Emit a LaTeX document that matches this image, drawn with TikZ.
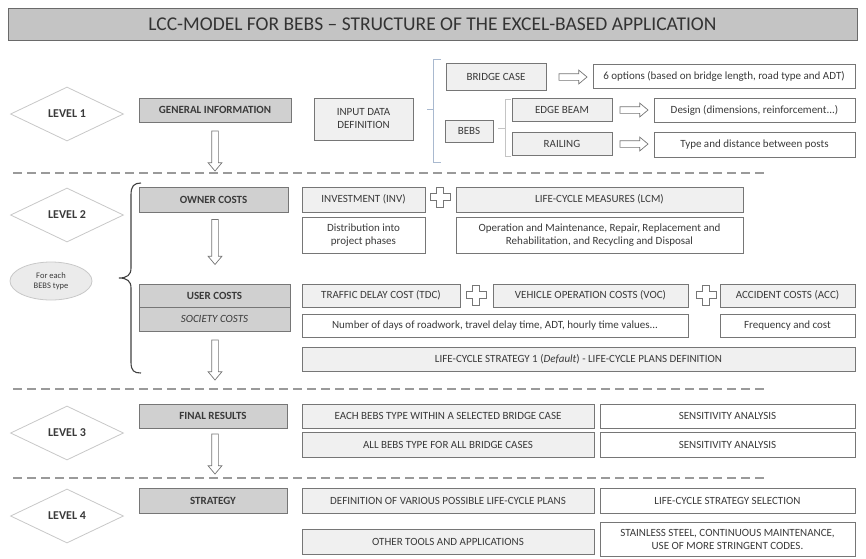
\documentclass[tikz,border=0pt]{standalone}
\usepackage{fontspec}
\setmainfont{Carlito}
\usetikzlibrary{shapes.geometric,shapes.arrows}
\definecolor{titlefill}{HTML}{C4C4C4}
\definecolor{darkfill}{HTML}{D0D0D0}
\definecolor{lightfill}{HTML}{F0F0F0}
\definecolor{boxline}{HTML}{767676}
\definecolor{txt}{HTML}{3A3A3A}
\definecolor{diamline}{HTML}{C8C8C8}
\definecolor{dashcol}{HTML}{9A9A9A}
\definecolor{bracketblue}{HTML}{A9B9CF}
\definecolor{bracketgray}{HTML}{C4C4C4}
\newcommand\bx[7]{\node[#1, minimum width={#5-#3}, minimum height={#6-#4}] (#2) at ({(#3+#5)/2},{(#4+#6)/2}) {#7};}
\tikzset{
  base/.style={draw=boxline, line width=0.8pt, inner sep=1pt, align=center, text=txt,
    font=\fontsize{11}{13}\selectfont},
  darkbox/.style={base, fill=darkfill, font=\fontsize{11}{13}\selectfont\bfseries},
  lightbox/.style={base, fill=lightfill},
  whitebox/.style={base, fill=white},
  levelbox/.style={diamond, draw=diamline, line width=0.8pt, fill=white, minimum width=113pt,
    minimum height=54pt, inner sep=0pt, text=txt, font=\fontsize{12}{14}\selectfont\bfseries},
  hollowarrow/.style={single arrow, draw=boxline, fill=white, line width=0.7pt, inner sep=3pt,
    single arrow head extend=3.5pt, single arrow tip angle=80},
  dashsep/.style={draw=dashcol, line width=1.7pt, dash pattern=on 9pt off 5pt},
  plussign/.pic={\draw[boxline, line width=0.8pt, fill=white]
    (-3.5,-10) -- (3.5,-10) -- (3.5,-3.5) -- (10,-3.5) -- (10,3.5) -- (3.5,3.5) -- (3.5,10)
    -- (-3.5,10) -- (-3.5,3.5) -- (-10,3.5) -- (-10,-3.5) -- (-3.5,-3.5) -- cycle;}
}
\begin{document}
\begin{tikzpicture}[x=1pt,y=-1pt]
\useasboundingbox (0,0) rectangle (866,558);
% title
\bx{base, fill=titlefill, draw=boxline!90!black, text=black!80, font=\fontsize{19.5}{21}\selectfont}{title}{8}{8}{857}{40}{LCC-MODEL FOR BEBS – STRUCTURE OF THE EXCEL-BASED APPLICATION}
% level diamonds
\node[levelbox] (lv1) at (67,114) {LEVEL 1};
\node[levelbox] (lv2) at (67,215) {LEVEL 2};
\node[levelbox] (lv3) at (67,433) {LEVEL 3};
\node[levelbox] (lv4) at (67,516) {LEVEL 4};
\node[ellipse, draw=diamline, fill=lightfill!85!darkfill, line width=0.8pt, minimum width=82pt, minimum height=38pt,
  inner sep=0pt, align=center, text=txt, font=\fontsize{8.5}{10}\selectfont] (each) at (51,281) {For each\\BEBS type};
% dashed separators
\coordinate (d1a) at (13,173); \coordinate (d1b) at (766,173);
\coordinate (d2a) at (13,389); \coordinate (d2b) at (766,389);
\coordinate (d3a) at (13,478); \coordinate (d3b) at (766,478);
\draw[dashsep] (d1a) -- (d1b);
\draw[dashsep] (d2a) -- (d2b);
\draw[dashsep] (d3a) -- (d3b);
% ---------------- level 1
\bx{darkbox}{gen}{139}{98}{291}{122}{GENERAL INFORMATION}
\bx{lightbox}{input}{314}{98}{413}{140}{INPUT DATA\\DEFINITION}
\bx{lightbox}{bridge}{446}{63}{546}{90}{BRIDGE CASE}
\bx{whitebox}{opts}{593}{64}{855}{88}{6 options (based on bridge length, road type and ADT)}
\bx{lightbox}{bebs}{445}{120}{493}{142}{BEBS}
\bx{lightbox}{edge}{512}{98}{612}{121}{EDGE BEAM}
\bx{lightbox}{rail}{512}{132}{612}{155}{RAILING}
\bx{whitebox}{design}{654}{98}{855}{122}{Design (dimensions, reinforcement...)}
\bx{whitebox}{type}{654}{132}{855}{157}{Type and distance between posts}
\node[hollowarrow, minimum height=28pt] (ar1) at (571,77) {};
\node[hollowarrow, minimum height=28pt] (ar2) at (632,110) {};
\node[hollowarrow, minimum height=28pt] (ar3) at (632,144) {};
\node[hollowarrow, minimum height=40pt, rotate=-90] (ad1) at (215,149) {};
% brackets
\coordinate (bk1) at (427,109);
\draw[bracketblue, line width=0.8pt] (441,59) -- (433,59) -- (433,162) -- (441,162);
\draw[bracketblue, line width=0.8pt] (bk1) -- (433,109);
\coordinate (bk2) at (498,128);
\draw[bracketgray, line width=0.8pt] (511,99) -- (505,99) -- (505,156) -- (511,156);
\draw[bracketgray, line width=0.8pt] (bk2) -- (505,128);
% ---------------- level 2
\draw[black!75, line width=1.1pt] (141,183) .. controls (134,183) and (131,186) .. (131,195) -- (131,268)
  .. controls (131,275) and (127,278) .. (119,278) .. controls (127,278) and (131,281) .. (131,288)
  -- (131,362) .. controls (131,371) and (134,373) .. (141,373);
\bx{darkbox}{owner}{139}{187}{288}{212}{OWNER COSTS}
\bx{lightbox}{inv}{302}{187}{425}{212}{INVESTMENT (INV)}
\bx{lightbox}{lcm}{456}{187}{743}{212}{LIFE-CYCLE MEASURES (LCM)}
\bx{whitebox}{distr}{302}{217}{425}{253}{Distribution into\\project phases}
\bx{whitebox}{oper}{456}{217}{743}{253}{Operation and Maintenance, Repair, Replacement and\\Rehabilitation, and Recycling and Disposal}
\pic at (440,197) {plussign};
\node[hollowarrow, minimum height=45pt, rotate=-90] (ad2) at (215,240) {};
\bx{darkbox}{user}{139}{284}{290}{307}{USER COSTS}
\bx{base, fill=darkfill, font=\fontsize{11}{13}\selectfont\itshape}{society}{139}{307}{290}{331}{SOCIETY COSTS}
\bx{lightbox}{tdc}{302}{284}{460}{307}{TRAFFIC DELAY COST (TDC)}
\bx{lightbox}{voc}{493}{284}{688}{307}{VEHICLE OPERATION COSTS (VOC)}
\bx{lightbox}{acc}{720}{284}{855}{307}{ACCIDENT COSTS (ACC)}
\pic at (476,295) {plussign};
\pic at (706,295) {plussign};
\bx{whitebox}{days}{302}{314}{688}{337}{Number of days of roadwork, travel delay time, ADT, hourly time values...}
\bx{whitebox}{freq}{720}{314}{855}{337}{Frequency and cost}
\bx{lightbox}{lcs}{302}{347}{855}{371}{LIFE-CYCLE STRATEGY 1 (\textit{Default}) - LIFE-CYCLE PLANS DEFINITION}
\node[hollowarrow, minimum height=40pt, rotate=-90] (ad3) at (215,358) {};
% ---------------- level 3
\bx{darkbox}{final}{139}{404}{287}{428}{FINAL RESULTS}
\bx{lightbox}{eachb}{302}{404}{594}{428}{EACH BEBS TYPE WITHIN A SELECTED BRIDGE CASE}
\bx{whitebox}{sens1}{600}{404}{855}{428}{SENSITIVITY ANALYSIS}
\bx{lightbox}{allb}{302}{432}{594}{457}{ALL BEBS TYPE FOR ALL BRIDGE CASES}
\bx{whitebox}{sens2}{600}{432}{855}{457}{SENSITIVITY ANALYSIS}
\node[hollowarrow, minimum height=40pt, rotate=-90] (ad4) at (215,452) {};
% ---------------- level 4
\bx{darkbox}{strat}{139}{488}{287}{513}{STRATEGY}
\bx{lightbox}{defn}{302}{488}{594}{513}{DEFINITION OF VARIOUS POSSIBLE LIFE-CYCLE PLANS}
\bx{whitebox}{lcss}{600}{488}{855}{513}{LIFE-CYCLE STRATEGY SELECTION}
\bx{lightbox}{other}{302}{529}{594}{554}{OTHER TOOLS AND APPLICATIONS}
\bx{whitebox}{stain}{600}{522}{855}{556}{STAINLESS STEEL, CONTINUOUS MAINTENANCE,\\USE OF MORE STRINGENT CODES.}
\end{tikzpicture}
\end{document}
